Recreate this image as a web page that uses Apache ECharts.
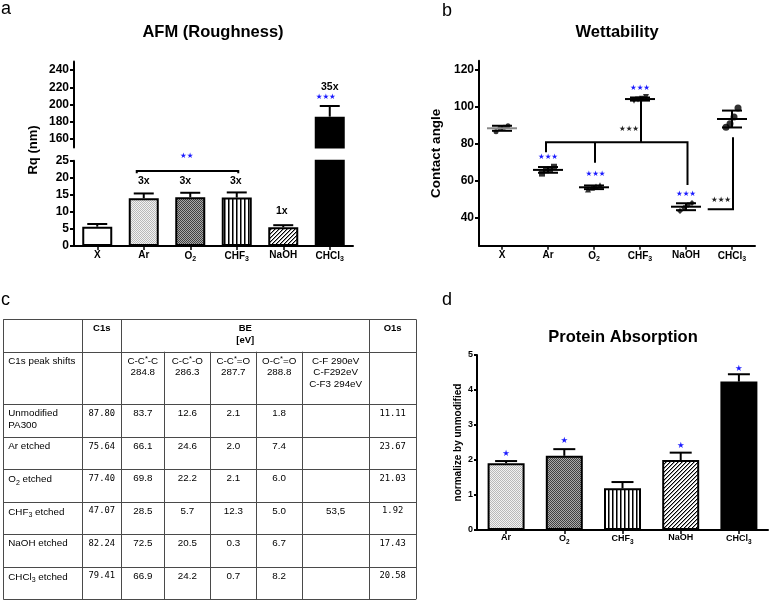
<!DOCTYPE html>
<html>
<head>
<meta charset="utf-8">
<title>PA300 surface modification</title>
<script src="https://cdn.jsdelivr.net/npm/echarts@6.0.0/dist/echarts.min.js"></script>
<style>
html,body{margin:0;padding:0;background:#fff;}
#chart{width:771px;height:602px;}
</style>
</head>
<body>
<div id="chart"></div>
<script>
// ================= DATA =================
// (a) AFM roughness
const afmCategories = ['X', 'Ar', 'O_2', 'CHF_3', 'NaOH', 'CHCl_3'];
const afmRq = [5.66, 14.0, 14.3, 14.2, 5.5, 185.9];
const afmRqErr = [0.79, 1.4, 1.3, 1.5, 0.6, 12.4];
const afmLowerTicks = [0, 5, 10, 15, 20, 25];
const afmUpperTicks = [160, 180, 200, 220, 240];
const afmFoldLabels = [[1, 19.1, '3x'], [2, 19.1, '3x'], [3, 19.1, '3x'], [4, 10.2, '1x']];
const afmUpperFold = [[5, 220.4, '35x']];
const afmUpperStars = [[5, 208.2, '★★★']];
const afmLowerStars = [[2, 26.4, '★★']];
const afmBracket = [[1, 21.3], [1, 22.0], [3, 22.0], [3, 21.3]];

// (b) Wettability: contact angle, 4 measurements per sample
const wetCategories = ['X', 'Ar', 'O_2', 'CHF_3', 'NaOH', 'CHCl_3'];
const wetX = [86.6, 88.6, 89.0, 89.8];
const wetAr = [64.0, 65.8, 66.5, 67.7];
const wetO2 = [55.4, 56.3, 57.0, 57.7];
const wetCHF3 = [103.4, 104.0, 104.4, 105.4];
const wetNaOH = [43.8, 45.5, 47.0, 48.1];
const wetCHCl3 = [89.0, 91.0, 94.6, 99.4];
const wetTicks = [40, 60, 80, 100, 120];
const wetBlueStars = [[1, 73.1, '★★★'], [2, 63.5, '★★★'], [3, 110.4, '★★★'], [4, 53.2, '★★★']];
const wetBlackStars = [[3, 88.0, '★★★'], [5, 49.7, '★★★']];
const wetBrackets = [
  [[1, 75.5], [1, 80.9], [4, 80.9], [4, 57.8]],
  [[2, 80.9], [2, 69.9]],
  [[3, 80.9], [3, 104.3]],
  [[5, 83.6], [5, 44.7], [4, 44.7]]
];

// (c) XPS table
const tableHead = ['C1s', 'BE\n[eV]', 'O1s'];
const tableRowTitle = 'C1s peak shifts';
const tableBEHeads = ['C-C*-C\n284.8', 'C-C*-O\n286.3', 'C-C*=O\n287.7', 'O-C*=O\n288.8', 'C-F 290eV\nC-F292eV\nC-F3 294eV'];
const tableSamples = ['Unmodified\nPA300', 'Ar etched', 'O_2 etched', 'CHF_3 etched', 'NaOH etched', 'CHCl_3 etched'];
const tableC1s = ['87.80', '75.64', '77.40', '47.07', '82.24', '79.41'];
const tableCC = ['83.7', '66.1', '69.8', '28.5', '72.5', '66.9'];
const tableCO = ['12.6', '24.6', '22.2', '5.7', '20.5', '24.2'];
const tableCdO = ['2.1', '2.0', '2.1', '12.3', '0.3', '0.7'];
const tableOCO = ['1.8', '7.4', '6.0', '5.0', '6.7', '8.2'];
const tableCF = ['', '', '', '53,5', '', ''];
const tableO1s = ['11.11', '23.67', '21.03', '1.92', '17.43', '20.58'];

// (d) Protein absorption
const protCategories = ['Ar', 'O_2', 'CHF_3', 'NaOH', 'CHCl_3'];
const protValues = [1.91, 2.12, 1.19, 2.0, 4.24];
const protErr = [0.06, 0.19, 0.18, 0.21, 0.21];
const protStars = [[0, 2.17, '★'], [1, 2.54, '★'], [3, 2.41, '★'], [4, 4.62, '★']];

// ================= LAYOUT / STYLE =================
const FF = 'Arial, "Liberation Sans", Helvetica, sans-serif';
const STARF = '"DejaVu Sans", sans-serif';
const MONO = '"DejaVu Sans Mono", "Liberation Mono", monospace';
const BLUE = '#1a1aff';

const afmFoldDx = [0, -5, -1, -1.5];
const afmBracketDx = [-7, -7, 1.5, 1.5];
const wetBlueDx = [0, 1.5, 0, 0];
const wetBlackDx = [-11, -11];
const wetBracketDx = [[-2, -2, 1.5, 1.5], [1, 1], [1, 1], [1, 1, 21.7]];
const wetPointDx = [-6, -2, 2, 6];
const wetSymbols = ['circle', 'rect', 'triangle', 'triangle', 'diamond', 'circle'];
const wetSymbolRotate = [0, 0, 0, 180, 0, 0];
const wetSymbolSize = [5, 6, 6, 6, 6, 7];

const tableColX = [3.3, 82.3, 121.3, 164.3, 210.3, 256.3, 302, 369.3, 416];
const tableRowY = [319.3, 351.7, 404.3, 437, 469.3, 501.7, 534, 566.7, 599.3];

function pattern(w, h, draw) {
  const c = document.createElement('canvas');
  c.width = w; c.height = h;
  draw(c.getContext('2d'));
  return { image: c, repeat: 'repeat' };
}
const fillLight = pattern(2, 2, ctx => {
  ctx.fillStyle = '#f2f2f2'; ctx.fillRect(0, 0, 2, 2);
  ctx.fillStyle = '#b9b9b9'; ctx.fillRect(0, 0, 1, 1); ctx.fillRect(1, 1, 1, 1);
});
const fillDark = pattern(2, 2, ctx => {
  ctx.fillStyle = '#aaaaaa'; ctx.fillRect(0, 0, 2, 2);
  ctx.fillStyle = '#404040'; ctx.fillRect(0, 0, 1, 1); ctx.fillRect(1, 1, 1, 1);
});
const fillStripe = pattern(4, 2, ctx => {
  ctx.fillStyle = '#ffffff'; ctx.fillRect(0, 0, 4, 2);
  ctx.fillStyle = '#000000'; ctx.fillRect(0, 0, 1, 2);
  ctx.fillStyle = '#7a7a7a'; ctx.fillRect(1, 0, 1, 2);
});
const fillHatch = pattern(4, 4, ctx => {
  ctx.fillStyle = '#ffffff'; ctx.fillRect(0, 0, 4, 4);
  for (let i = 0; i < 4; i++) {
    ctx.fillStyle = '#000000'; ctx.fillRect(3 - i, i, 1, 1);
    ctx.fillStyle = '#9a9a9a'; ctx.fillRect((4 - i) % 4, i, 1, 1);
  }
});
const afmFills = ['#ffffff', fillLight, fillDark, fillStripe, fillHatch, '#000000'];
const protFills = [fillLight, fillDark, fillStripe, fillHatch, '#000000'];

function toRich(str, base, sub) {
  return str.split('\n').map(line =>
    line.split(/(_\d|\*)/).filter(t => t !== '').map(t =>
      t[0] === '_' ? '{' + sub + '|' + t.slice(1) + '}' :
      t === '*' ? '{sup|*}' : '{' + base + '|' + t + '}'
    ).join('')
  ).join('\n');
}

function catAxis(gi, data, fs, ss, margin, show) {
  return {
    type: 'category', gridIndex: gi, data: data, show: show,
    axisLine: { show: true, onZero: false, lineStyle: { color: '#000', width: 2 } },
    axisTick: { show: true, alignWithLabel: true, length: 4, lineStyle: { color: '#000', width: 1.5 } },
    axisLabel: {
      show: true, interval: 0, margin: margin,
      formatter: v => toRich(v, 'm', 's'),
      rich: {
        m: { fontFamily: FF, fontWeight: 'bold', fontSize: fs, color: '#000', lineHeight: fs + 2 },
        s: { fontFamily: FF, fontWeight: 'bold', fontSize: ss, color: '#000', lineHeight: fs + 4, verticalAlign: 'bottom' }
      }
    },
    splitLine: { show: false }
  };
}

function valAxis(gi, min, max, fs, tickLen, margin, extra) {
  const ax = {
    type: 'value', gridIndex: gi, min: min, max: max,
    axisLine: { show: true, lineStyle: { color: '#000', width: 2 } },
    axisTick: { show: true, length: tickLen, lineStyle: { color: '#000', width: 2 } },
    axisLabel: { color: '#000', fontFamily: FF, fontWeight: 'bold', fontSize: fs, margin: margin },
    splitLine: { show: false }
  };
  if (extra.customValues) {
    ax.axisLabel.customValues = extra.customValues;
    ax.axisTick.customValues = extra.customValues;
  }
  if (extra.interval) ax.interval = extra.interval;
  if (extra.name) {
    ax.name = extra.name;
    ax.nameLocation = 'middle';
    ax.nameGap = extra.nameGap;
    ax.nameTextStyle = { fontFamily: FF, fontWeight: 'bold', fontSize: extra.nameSize, color: '#000' };
  }
  return ax;
}

function barSeries(xi, yi, values, fills, width, keep) {
  return {
    type: 'bar', xAxisIndex: xi, yAxisIndex: yi, barWidth: width, clip: true, silent: true, z: 2,
    itemStyle: { borderColor: '#000', borderWidth: 2 },
    data: values.map((v, i) => keep(v) ? { value: v, itemStyle: { color: fills[i] } } : '-')
  };
}

function errSeries(xi, yi, values, errs, capW, keep) {
  const d = values.map((v, i) => [i, v, v + errs[i]]).filter(p => keep(p[1]));
  return {
    type: 'custom', xAxisIndex: xi, yAxisIndex: yi, silent: true, z: 3, data: d,
    renderItem: (params, api) => {
      const p = d[params.dataIndex];
      const b = api.coord([p[0], p[1]]), t = api.coord([p[0], p[2]]);
      return { type: 'group', children: [
        { type: 'line', shape: { x1: b[0], y1: b[1], x2: t[0], y2: t[1] }, style: { stroke: '#000', lineWidth: 2 } },
        { type: 'line', shape: { x1: t[0] - capW / 2, y1: t[1], x2: t[0] + capW / 2, y2: t[1] }, style: { stroke: '#000', lineWidth: 2 } }
      ] };
    }
  };
}

function textSeries(xi, yi, items, dxs, style) {
  return {
    type: 'custom', xAxisIndex: xi, yAxisIndex: yi, silent: true, z: 6,
    data: items.map(d => [d[0], d[1]]),
    renderItem: (params, api) => {
      const d = items[params.dataIndex];
      const p = api.coord([d[0], d[1]]);
      return { type: 'text', x: p[0] + (dxs ? dxs[params.dataIndex] : 0), y: p[1],
        style: Object.assign({ text: d[2], align: 'center', verticalAlign: 'middle' }, style) };
    }
  };
}

function bracketSeries(xi, yi, lines, dxs) {
  return {
    type: 'custom', xAxisIndex: xi, yAxisIndex: yi, silent: true, z: 5,
    data: lines.map((l, i) => [l[0][0], l[0][1]]),
    renderItem: (params, api) => {
      const l = lines[params.dataIndex], dx = dxs[params.dataIndex];
      const pts = l.map((p, k) => { const c = api.coord([p[0], p[1]]); return [c[0] + dx[k], c[1]]; });
      return { type: 'polyline', shape: { points: pts }, style: { stroke: '#000', lineWidth: 2, fill: null } };
    }
  };
}

const wetGroups = [wetX, wetAr, wetO2, wetCHF3, wetNaOH, wetCHCl3];
function mean(a) { return a.reduce((s, v) => s + v, 0) / a.length; }
function sd(a) { const m = mean(a); return Math.sqrt(a.reduce((s, v) => s + (v - m) * (v - m), 0) / (a.length - 1)); }

// ================= TABLE (panel c) =================
function buildTable() {
  const els = [];
  const X = tableColX, Y = tableRowY;
  const P = v => Math.round(v) + 0.5;
  const stroke = '#4a4a4a';
  Y.forEach(y => els.push({ type: 'line', shape: { x1: X[0], y1: P(y), x2: X[X.length - 1], y2: P(y) }, style: { stroke: stroke, lineWidth: 1 } }));
  X.forEach((x, ci) => {
    const inSpan = ci >= 3 && ci <= 6;
    els.push({ type: 'line', shape: { x1: P(x), y1: inSpan ? Y[1] : Y[0], x2: P(x), y2: Y[Y.length - 1] }, style: { stroke: stroke, lineWidth: 1 } });
  });
  const LH = 11.7;
  const rich = {
    t: { fontFamily: FF, fontSize: 9.8, color: '#000', lineHeight: LH },
    b: { fontFamily: FF, fontSize: 9.5, fontWeight: 'bold', color: '#000', lineHeight: LH },
    n: { fontFamily: MONO, fontSize: 8.8, color: '#333', lineHeight: LH },
    s: { fontFamily: FF, fontSize: 7, color: '#000', lineHeight: 13.5, verticalAlign: 'bottom' },
    sup: { fontFamily: FF, fontSize: 7.5, color: '#000', lineHeight: 7, verticalAlign: 'top' }
  };
  function cell(x0, x1, ri, text, kind, left) {
    if (!text) return;
    els.push({ type: 'text', x: left ? x0 + 5 : (x0 + x1) / 2, y: Y[ri] + 9.3 - LH / 2,
      style: { text: toRich(text, kind, 's'), rich: rich, align: left ? 'left' : 'center', verticalAlign: 'top' } });
  }
  cell(X[1], X[2], 0, tableHead[0], 'b');
  cell(X[2], X[7], 0, tableHead[1], 'b');
  cell(X[7], X[8], 0, tableHead[2], 'b');
  cell(X[0], X[1], 1, tableRowTitle, 't', true);
  tableBEHeads.forEach((h, i) => cell(X[2 + i], X[3 + i], 1, h, 't'));
  tableSamples.forEach((s, r) => {
    const ri = r + 2;
    cell(X[0], X[1], ri, s, 't', true);
    cell(X[1], X[2], ri, tableC1s[r], 'n');
    [tableCC, tableCO, tableCdO, tableOCO, tableCF].forEach((col, k) => cell(X[2 + k], X[3 + k], ri, col[r], 't'));
    cell(X[7], X[8], ri, tableO1s[r], 'n');
  });
  return els;
}

// ================= CHART =================
const chart = echarts.init(document.getElementById('chart'), null, { renderer: 'canvas', width: 771, height: 602 });
const titleStyle = { fontFamily: FF, fontWeight: 'bold', fontSize: 16.5, color: '#000' };
const keepAll = () => true;

const option = {
  animation: false,
  backgroundColor: '#ffffff',
  title: [
    { text: 'AFM (Roughness)', left: 213, top: 23.8, textAlign: 'center', padding: 0, textStyle: titleStyle },
    { text: 'Wettability', left: 617, top: 23.8, textAlign: 'center', padding: 0, textStyle: titleStyle },
    { text: 'Protein Absorption', left: 623, top: 329.3, textAlign: 'center', padding: 0, textStyle: titleStyle }
  ],
  grid: [
    { left: 74, top: 61.5, width: 279, height: 86.1 },
    { left: 74, top: 160.7, width: 279, height: 85.3 },
    { left: 479, top: 60.75, width: 276, height: 185 },
    { left: 477, top: 355, width: 291, height: 175 }
  ],
  xAxis: [
    catAxis(0, afmCategories, 10, 7, 3, false),
    catAxis(1, afmCategories, 10, 7, 3, true),
    catAxis(2, wetCategories, 10, 7, 3, true),
    catAxis(3, protCategories, 9, 6.5, 2.5, true)
  ],
  yAxis: [
    valAxis(0, 150, 250, 12, 4, 5, { customValues: afmUpperTicks }),
    valAxis(1, 0, 25, 12, 4, 5, { customValues: afmLowerTicks }),
    valAxis(2, 25, 125, 12, 4, 5, { customValues: wetTicks, name: 'Contact angle', nameGap: 36, nameSize: 13.5 }),
    valAxis(3, 0, 5, 9, 3, 4, { interval: 1, name: 'normalize by unmodified', nameGap: 14, nameSize: 10 })
  ],
  series: [
    // (a)
    barSeries(0, 0, afmRq, afmFills, 30, v => v >= 150),
    barSeries(1, 1, afmRq, afmFills, 30, keepAll),
    errSeries(0, 0, afmRq, afmRqErr, 20, v => v >= 150),
    errSeries(1, 1, afmRq, afmRqErr, 20, v => v < 25),
    textSeries(1, 1, afmFoldLabels, afmFoldDx, { fontFamily: FF, fontWeight: 'bold', fontSize: 10.5, fill: '#000' }),
    textSeries(1, 1, afmLowerStars, [-3.5], { fontFamily: STARF, fontSize: 7.5, fill: BLUE }),
    textSeries(0, 0, afmUpperFold, [0], { fontFamily: FF, fontWeight: 'bold', fontSize: 10.5, fill: '#000' }),
    textSeries(0, 0, afmUpperStars, [-4], { fontFamily: STARF, fontSize: 7.5, fill: BLUE }),
    bracketSeries(1, 1, [afmBracket], [afmBracketDx]),
    // (b)
    {
      type: 'scatter', xAxisIndex: 2, yAxisIndex: 2, silent: true, z: 3,
      itemStyle: { color: '#000' },
      data: wetGroups.flatMap((g, i) => g.map((v, j) => ({
        value: [i, v], symbol: wetSymbols[i], symbolSize: wetSymbolSize[i],
        symbolRotate: wetSymbolRotate[i], symbolOffset: [wetPointDx[j], 0]
      })))
    },
    {
      type: 'custom', xAxisIndex: 2, yAxisIndex: 2, silent: true, z: 4,
      data: wetGroups.map((g, i) => [i, mean(g)]),
      renderItem: (params, api) => {
        const i = params.dataIndex, g = wetGroups[i];
        const m = mean(g), s = sd(g);
        const pm = api.coord([i, m]), pt = api.coord([i, m + s]), pb = api.coord([i, m - s]);
        const x = pm[0];
        const ln = (x1, y1, x2, y2, c) => ({ type: 'line', shape: { x1, y1, x2, y2 }, style: { stroke: c || '#000', lineWidth: 2 } });
        return { type: 'group', children: [
          ln(x, pt[1], x, pb[1]),
          ln(x - 10, pt[1], x + 10, pt[1]),
          ln(x - 10, pb[1], x + 10, pb[1]),
          ln(x - 15, pm[1], x + 15, pm[1], i === 0 ? '#8a8a8a' : '#000')
        ] };
      }
    },
    bracketSeries(2, 2, wetBrackets, wetBracketDx),
    textSeries(2, 2, wetBlueStars, wetBlueDx, { fontFamily: STARF, fontSize: 7.5, fill: BLUE }),
    textSeries(2, 2, wetBlackStars, wetBlackDx, { fontFamily: STARF, fontSize: 7.5, fill: '#222' }),
    // (d)
    barSeries(3, 3, protValues, protFills, 37, keepAll),
    errSeries(3, 3, protValues, protErr, 22, keepAll),
    textSeries(3, 3, protStars, null, { fontFamily: STARF, fontSize: 8.5, fill: BLUE })
  ],
  graphic: [
    { type: 'text', x: 1, y: 8.8, style: { text: 'a', font: '18px ' + FF, fill: '#000', verticalAlign: 'middle' } },
    { type: 'text', x: 442, y: 10.8, style: { text: 'b', font: '18px ' + FF, fill: '#000', verticalAlign: 'middle' } },
    { type: 'text', x: 1, y: 299.8, style: { text: 'c', font: '18px ' + FF, fill: '#000', verticalAlign: 'middle' } },
    { type: 'text', x: 442, y: 300.5, style: { text: 'd', font: '18px ' + FF, fill: '#000', verticalAlign: 'middle' } },
    { type: 'text', x: 33, y: 150, rotation: Math.PI / 2,
      style: { text: 'Rq (nm)', font: 'bold 13px ' + FF, fill: '#000', align: 'center', verticalAlign: 'middle' } }
  ].concat(buildTable())
};
chart.setOption(option);
</script>
</body>
</html>
